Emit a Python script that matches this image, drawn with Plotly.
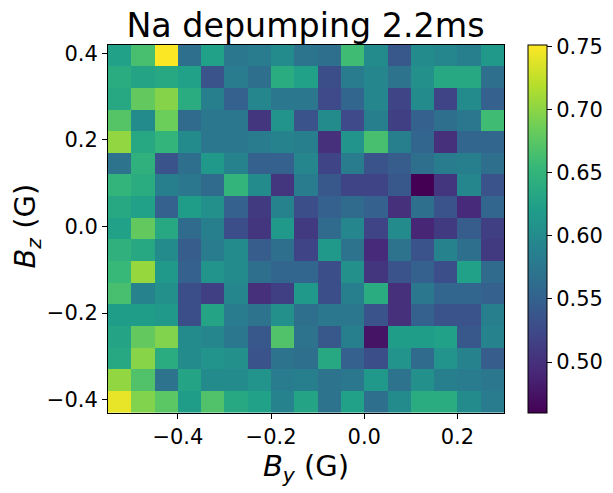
import plotly.graph_objects as go

by_centers = [-0.525, -0.475, -0.425, -0.375, -0.325, -0.275, -0.225, -0.175, -0.125,
              -0.075, -0.025, 0.025, 0.075, 0.125, 0.175, 0.225, 0.275]
bz_centers = [0.395, 0.345, 0.295, 0.245, 0.195, 0.145, 0.095, 0.045, -0.005,
              -0.055, -0.105, -0.155, -0.205, -0.255, -0.305, -0.355, -0.405]

depumping = [
    [0.625, 0.665, 0.751, 0.565, 0.625, 0.575, 0.580, 0.600, 0.572, 0.565, 0.660, 0.600, 0.540, 0.600, 0.595, 0.585, 0.615],
    [0.640, 0.630, 0.635, 0.625, 0.535, 0.580, 0.565, 0.640, 0.625, 0.530, 0.580, 0.595, 0.570, 0.605, 0.635, 0.635, 0.565],
    [0.635, 0.680, 0.697, 0.640, 0.585, 0.550, 0.595, 0.575, 0.575, 0.525, 0.555, 0.595, 0.520, 0.600, 0.520, 0.600, 0.550],
    [0.672, 0.600, 0.685, 0.560, 0.575, 0.575, 0.505, 0.610, 0.535, 0.600, 0.525, 0.585, 0.515, 0.550, 0.565, 0.575, 0.660],
    [0.703, 0.635, 0.650, 0.600, 0.575, 0.575, 0.580, 0.590, 0.585, 0.500, 0.610, 0.665, 0.585, 0.555, 0.500, 0.555, 0.555],
    [0.570, 0.645, 0.535, 0.565, 0.615, 0.590, 0.550, 0.550, 0.595, 0.520, 0.580, 0.535, 0.545, 0.565, 0.580, 0.585, 0.565],
    [0.650, 0.640, 0.585, 0.575, 0.560, 0.650, 0.600, 0.505, 0.580, 0.540, 0.520, 0.520, 0.540, 0.460, 0.505, 0.595, 0.535],
    [0.635, 0.625, 0.550, 0.620, 0.605, 0.550, 0.510, 0.590, 0.530, 0.550, 0.560, 0.550, 0.500, 0.565, 0.535, 0.495, 0.555],
    [0.625, 0.680, 0.635, 0.560, 0.585, 0.530, 0.505, 0.615, 0.510, 0.560, 0.595, 0.520, 0.600, 0.490, 0.510, 0.545, 0.515],
    [0.645, 0.635, 0.600, 0.545, 0.580, 0.600, 0.545, 0.565, 0.520, 0.615, 0.570, 0.495, 0.570, 0.535, 0.590, 0.565, 0.510],
    [0.655, 0.705, 0.615, 0.550, 0.610, 0.600, 0.565, 0.555, 0.555, 0.530, 0.605, 0.505, 0.535, 0.550, 0.530, 0.625, 0.560],
    [0.665, 0.590, 0.605, 0.530, 0.515, 0.595, 0.500, 0.515, 0.615, 0.530, 0.585, 0.640, 0.500, 0.575, 0.555, 0.555, 0.550],
    [0.620, 0.620, 0.615, 0.530, 0.630, 0.580, 0.570, 0.605, 0.565, 0.575, 0.575, 0.535, 0.500, 0.550, 0.535, 0.535, 0.585],
    [0.630, 0.680, 0.695, 0.600, 0.595, 0.575, 0.540, 0.670, 0.570, 0.540, 0.585, 0.475, 0.620, 0.620, 0.625, 0.540, 0.590],
    [0.635, 0.698, 0.640, 0.600, 0.610, 0.605, 0.535, 0.570, 0.565, 0.635, 0.550, 0.530, 0.610, 0.560, 0.610, 0.590, 0.545],
    [0.703, 0.670, 0.570, 0.630, 0.600, 0.600, 0.610, 0.580, 0.585, 0.570, 0.575, 0.615, 0.570, 0.605, 0.585, 0.580, 0.575],
    [0.742, 0.695, 0.675, 0.620, 0.670, 0.635, 0.625, 0.590, 0.630, 0.570, 0.625, 0.565, 0.600, 0.640, 0.640, 0.600, 0.580],
]

x_ticks = [-0.4, -0.2, 0.0, 0.2]
y_ticks = [-0.4, -0.2, 0.0, 0.2, 0.4]
cbar_ticks = [0.50, 0.55, 0.60, 0.65, 0.70, 0.75]

FONT = "DejaVu Sans"
INK = "#000000"

fig = go.Figure(go.Heatmap(
    x=by_centers,
    y=bz_centers,
    z=depumping,
    colorscale="Viridis",
    zmin=0.4596,
    zmax=0.7513,
    hoverinfo="skip",
    colorbar=dict(
        thickness=19,
        thicknessmode="pixels",
        len=1,
        lenmode="fraction",
        x=1.0615,
        xanchor="left",
        y=0.5,
        yanchor="middle",
        xpad=0,
        ypad=0,
        outlinecolor=INK,
        outlinewidth=1,
        tickmode="array",
        tickvals=cbar_ticks,
        ticktext=[f"{t:.2f}" for t in cbar_ticks],
        ticks="outside",
        ticklen=5,
        tickwidth=1,
        tickcolor=INK,
        tickfont=dict(family=FONT, size=21, color=INK),
    ),
))

axis_common = dict(
    showgrid=False,
    zeroline=False,
    showline=True,
    mirror=True,
    linecolor=INK,
    linewidth=1,
    ticks="outside",
    ticklen=5,
    tickwidth=1,
    tickcolor=INK,
    tickfont=dict(family=FONT, size=21, color=INK),
)

fig.update_layout(
    width=605,
    height=485,
    margin=dict(l=99.5, r=109, t=36.5, b=79.5, autoexpand=False),
    paper_bgcolor="white",
    plot_bgcolor="white",
    font=dict(family=FONT, color=INK),
    title=dict(
        text="Na depumping 2.2ms",
        font=dict(family=FONT, size=33.3, color=INK),
        x=297.5 / 605,
        xanchor="center",
        xref="container",
        y=1 - 17 / 485,
        yanchor="middle",
    ),
    xaxis=dict(
        axis_common,
        range=[-0.55, 0.30],
        tickmode="array",
        tickvals=x_ticks,
        ticktext=[f"{t:.1f}".replace("-", "\u2212") for t in x_ticks],
        title=dict(text="<i>B<sub>y</sub></i> (G)", font=dict(family=FONT, size=29, color=INK), standoff=5),
    ),
    yaxis=dict(
        axis_common,
        range=[-0.4306, 0.419],
        tickmode="array",
        tickvals=y_ticks,
        ticktext=[f"{t:.1f}".replace("-", "\u2212") for t in y_ticks],
        title=dict(
            text="<span style='font-size:18px'>&nbsp;</span><i>B<sub>z</sub></i> (G)",
            font=dict(family=FONT, size=29, color=INK),
            standoff=8,
        ),
    ),
)

fig.write_html("out.html")
